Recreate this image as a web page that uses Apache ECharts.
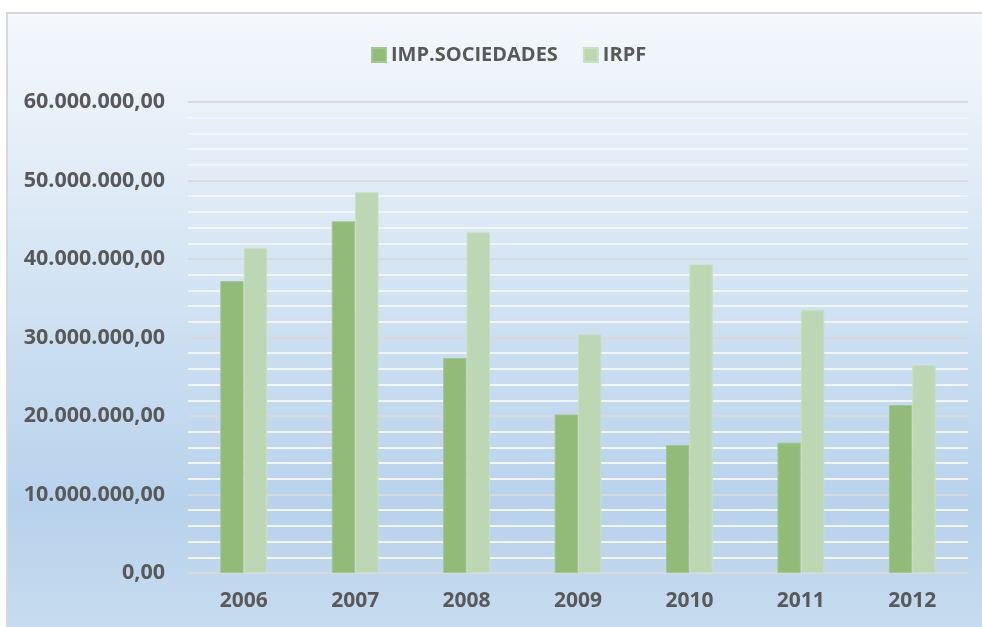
<!DOCTYPE html>
<html>
<head>
<meta charset="utf-8">
<script src="https://cdn.jsdelivr.net/npm/echarts@6/dist/echarts.min.js"></script>
<style>
  html, body { margin: 0; padding: 0; background: #ffffff; overflow: hidden; }
  #chart { position: absolute; left: 6px; top: 12px; width: 974px; height: 613px;
           border-left: 2px solid #d9d9d9; border-top: 2px solid #d9d9d9; }
</style>
</head>
<body>
<div id="chart"></div>
<script>
const categories = ['2006', '2007', '2008', '2009', '2010', '2011', '2012'];
const seriesNames = ['IMP.SOCIEDADES', 'IRPF'];
const impSociedades = [37200000, 44800000, 27400000, 20200000, 16300000, 16600000, 21400000];
const irpf = [41400000, 48500000, 43400000, 30400000, 39300000, 33500000, 26500000];

function fmt(v) {
  const parts = Number(v).toFixed(2).split('.');
  const intPart = parts[0].replace(/\B(?=(\d{3})+(?!\d))/g, '.');
  return intPart + ',' + parts[1];
}

const FONT = "'Open Sans', 'Noto Sans', sans-serif";
const chart = echarts.init(document.getElementById('chart'), null, { renderer: 'canvas' });
chart.setOption({
  backgroundColor: new echarts.graphic.LinearGradient(0, 0, 0, 1, [
    { offset: 0, color: '#f5f8fc' },
    { offset: 0.45, color: '#d2e3f3' },
    { offset: 0.8, color: '#b8d2ec' },
    { offset: 1, color: '#c6dbef' }
  ]),
  textStyle: { fontFamily: FONT },
  legend: {
    data: seriesNames,
    left: 358,
    top: 26,
    icon: 'rect',
    itemWidth: 14,
    itemHeight: 14,
    itemGap: 25,
    textStyle: { color: '#595959', fontSize: 20, fontWeight: 'bold', fontFamily: FONT }
  },
  grid: { left: 180, right: 14, top: 88, bottom: 54, containLabel: false },
  xAxis: {
    type: 'category',
    data: categories,
    axisLine: { show: true, lineStyle: { color: '#d9d9d9', width: 2 } },
    axisTick: { show: false },
    axisLabel: { color: '#595959', fontSize: 21, fontWeight: 'bold', fontFamily: FONT, margin: 18 }
  },
  yAxis: {
    type: 'value',
    min: 0,
    max: 60000000,
    interval: 10000000,
    axisLine: { show: false },
    axisTick: { show: false },
    axisLabel: {
      color: '#595959', fontSize: 21.5, fontWeight: 'bold', fontFamily: FONT, margin: 23,
      formatter: fmt
    },
    splitLine: { show: true, lineStyle: { color: '#d6d9dd', width: 2 } },
    minorTick: { show: false, splitNumber: 5 },
    minorSplitLine: { show: true, lineStyle: { color: '#f2f4f6', width: 2 } }
  },
  series: [
    {
      name: seriesNames[0],
      type: 'bar',
      data: impSociedades,
      barGap: '0%',
      barCategoryGap: '58%',
      itemStyle: { color: '#92bb79', borderColor: '#a3c78d', borderWidth: 1 },
      z: 3
    },
    {
      name: seriesNames[1],
      type: 'bar',
      data: irpf,
      barGap: '0%',
      barCategoryGap: '58%',
      itemStyle: { color: '#bdd6b3', borderColor: '#c9dfc0', borderWidth: 1 },
      z: 3
    }
  ],
  animation: false
});
</script>
</body>
</html>
